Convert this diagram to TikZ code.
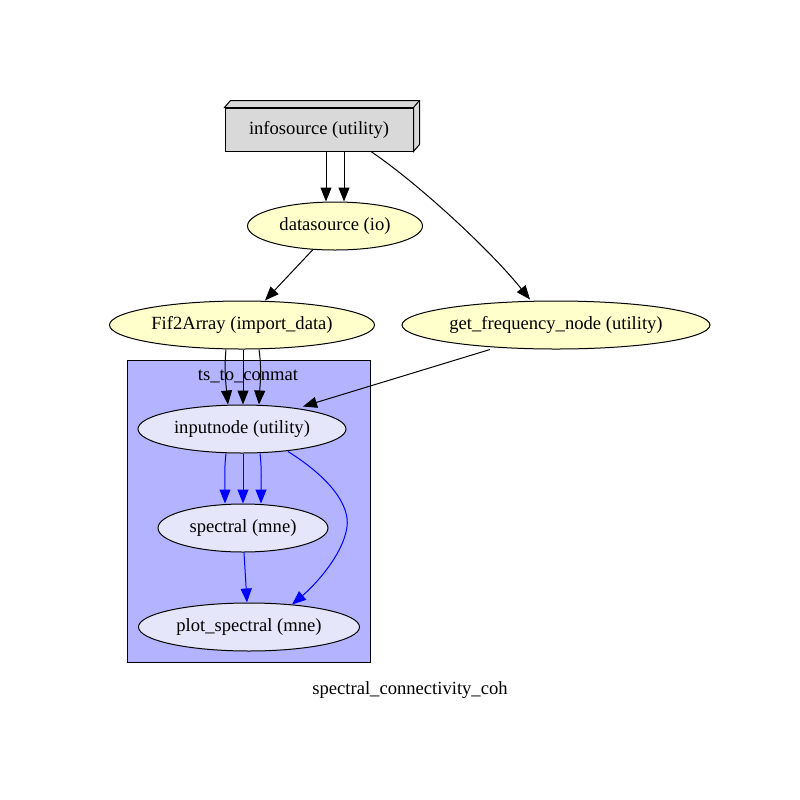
\documentclass[tikz,border=0pt]{standalone}
\usepackage{fontspec}
\setmainfont{Liberation Serif}
\usetikzlibrary{shapes.geometric,arrows.meta,calc}
\definecolor{nodeyellow}{HTML}{FFFFCC}
\definecolor{lav}{HTML}{E6E6FA}
\definecolor{clusterblue}{HTML}{B3B3FF}
\definecolor{boxgray}{HTML}{D9D9D9}
\tikzset{
  x=0.5pt, y=-0.5pt,
  every node/.style={font=\fontsize{9.3}{11}\selectfont, inner sep=0pt},
  ell/.style={ellipse, draw=black, line width=0.5pt},
  yell/.style={ell, fill=nodeyellow},
  lavell/.style={ell, fill=lav},
  arr/.style={-{Triangle[length=7pt,width=5.5pt]}, line width=0.5pt},
  barr/.style={arr, draw=blue},
}
\begin{document}
\begin{tikzpicture}
\useasboundingbox (0,0) rectangle (800,800);
% cluster
\node[draw=black, fill=clusterblue, line width=0.5pt, minimum width=121.5pt, minimum height=151pt, anchor=north west] (cluster) at (127,360) {};
\node (clabel) at (248,376) {ts\_to\_conmat};
% infosource box3d
\node[draw=black, fill=boxgray, line width=0.5pt, minimum width=94pt, minimum height=21.5pt] (info) at (319,129.5) {infosource (utility)};
\draw[fill=boxgray, line width=0.5pt] (info.north west) -- ($(info.north west)+(6,-7)$) -- ($(info.north east)+(6,-7)$) -- ($(info.south east)+(6,-7)$) -- (info.south east) -- (info.north east) -- cycle;
\draw[line width=0.5pt] (info.north east) -- ($(info.north east)+(6,-7)$);
% ellipses
\node[yell, minimum width=87.5pt, minimum height=24pt] (data) at (335,226) {datasource (io)};
\node[yell, minimum width=132.5pt, minimum height=24pt] (fif) at (242,325) {Fif2Array (import\_data)};
\node[yell, minimum width=154pt, minimum height=24pt] (freq) at (556,325) {get\_frequency\_node (utility)};
\node[lavell, minimum width=104pt, minimum height=24pt] (inp) at (242,429) {inputnode (utility)};
\node[lavell, minimum width=85pt, minimum height=24pt] (spec) at (243,528) {spectral (mne)};
\node[lavell, minimum width=110.5pt, minimum height=24pt] (plot) at (249,627) {plot\_spectral (mne)};
\node (title) at (410,690) {spectral\_connectivity\_coh};
% edges
\draw[arr] ([xshift=3.5pt]info.south) -- ([xshift=-4.5pt]data.north);
\draw[arr] ([xshift=12.5pt]info.south) -- ([xshift=4.5pt]data.north);
\draw[arr] ($(info.south)+(52,0)$) .. controls (420,185) and (490,250) .. ($(freq.north)+(-26,-1)$);
\draw[arr] ($(data.south)+(-22,-1)$) -- ($(fif.north)+(23,0)$);
\draw[arr] ($(fif.south)+(-16,0)$) .. controls (224,370) and (226,385) .. ($(inp.north)+(-14,0)$);
\draw[arr] ($(fif.south)+(1,0)$) -- ($(inp.north)+(1,0)$);
\draw[arr] ($(fif.south)+(17,0)$) .. controls (262,370) and (260,385) .. ($(inp.north)+(17,0)$);
\draw[arr] ($(freq.south)+(-66,0)$) -- ($(inp.north)+(61,2)$);
\draw[barr] ($(inp.south)+(-16,0)$) .. controls (224,470) and (225,485) .. ($(spec.north)+(-18,0)$);
\draw[barr] ($(inp.south)+(1,0)$) -- ($(spec.north)+(0,0)$);
\draw[barr] ($(inp.south)+(18,0)$) .. controls (262,470) and (261,485) .. ($(spec.north)+(18,0)$);
\draw[barr] ($(spec.south)+(1,0)$) -- ($(plot.north)+(-2,0)$);
\draw[barr] ($(inp.south)+(46,-2)$) .. controls (330,478) and (350,505) .. (347,527) .. controls (343,555) and (315,585) .. ($(plot.north)+(43,2)$);
\end{tikzpicture}
\end{document}
